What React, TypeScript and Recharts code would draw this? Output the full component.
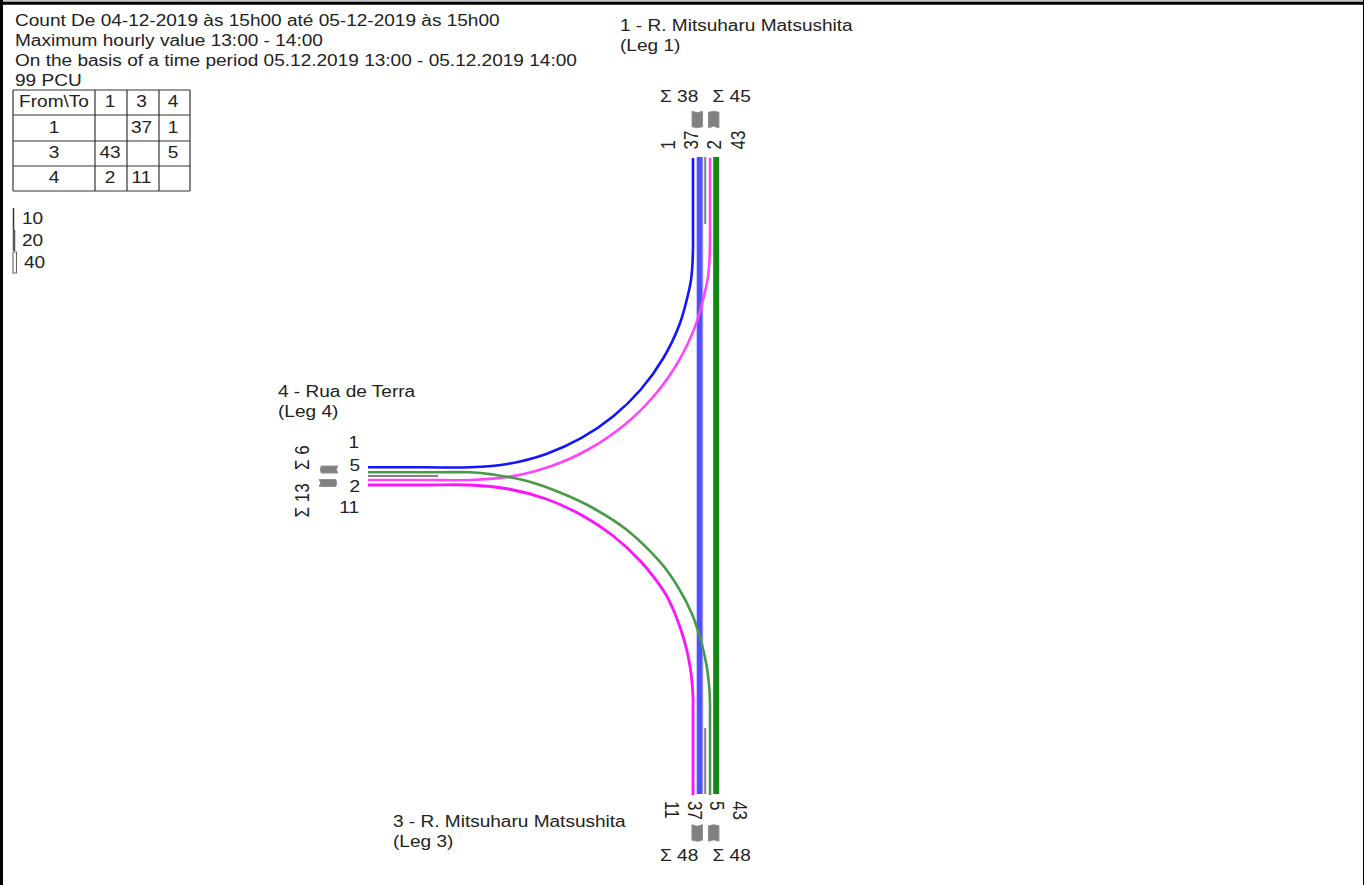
import React from "react";
import { ComposedChart, Line, Scatter, XAxis, YAxis } from "recharts";

// ---------- values ----------
const headerLines = [
  "Count De 04-12-2019 às 15h00 até 05-12-2019 às 15h00",
  "Maximum hourly value 13:00 - 14:00",
  "On the basis of a time period 05.12.2019 13:00 - 05.12.2019 14:00",
  "99 PCU",
];
const tableColumns = ["From\\To", "1", "3", "4"];
const tableRow1 = ["1", "", "37", "1"];
const tableRow3 = ["3", "43", "", "5"];
const tableRow4 = ["4", "2", "11", ""];
const scaleLabels = ["10", "20", "40"];
const legNames = ["1 - R. Mitsuharu Matsushita", "(Leg 1)", "4 - Rua de Terra", "(Leg 4)", "3 - R. Mitsuharu Matsushita", "(Leg 3)"];
const northSums = ["Σ 38", "Σ 45"];
const southSums = ["Σ 48", "Σ 48"];
const westSums = ["Σ 6", "Σ 13"];
const northFlows = ["1", "37", "2", "43"];
const southFlows = ["11", "37", "5", "43"];
const westFlows = ["1", "5", "2", "11"];

// flow paths, in drawing units of the diagram
const blueX = [368, 425, 470, 508.7, 546.3, 581.5, 613.3, 640.8, 663.1, 679.6, 689.6, 692.2, 693, 693, 693];
const blueY = [467.3, 467.3, 467.3, 463.7, 453.9, 437.9, 416.2, 389.5, 358.5, 324.2, 287.7, 268, 248, 232, 158];
const pinkUpX = [368, 425, 470, 511.7, 552.1, 590, 624.3, 653.9, 677.8, 695.5, 706.4, 709.2, 710, 710, 710];
const pinkUpY = [480, 480, 480, 476.4, 465.8, 448.5, 425, 396, 362.5, 325.4, 285.8, 265, 243, 228, 158];
const greenX = [368, 425, 470, 493, 527, 560, 593, 627, 660, 678, 692, 701, 706.5, 709.3, 710, 710, 710];
const greenY = [472.3, 472.3, 472.3, 474.5, 481, 492.5, 508, 530, 561.8, 587, 614, 641, 665, 688, 705, 720, 795];
const pinkDownX = [368, 425, 470, 508.7, 546.3, 581.5, 613.3, 640.8, 663.1, 673, 681, 687, 691, 693, 693, 693];
const pinkDownY = [485, 485, 485, 489, 499, 515, 536, 561.5, 590, 609, 630, 651, 673, 697, 712, 795];

// ---------- layout ----------
const W = 1364;
const H = 885;
const TEXT_STRETCH = 1.19;
const toPoints = (xs: number[], ys: number[]) => xs.map((x, i) => ({ x, y: ys[i] }));
const seg = (x1: number, y1: number, x2: number, y2: number) => [{ x: x1, y: y1 }, { x: x2, y: y2 }];

const tableXs = [13, 95, 127, 159, 190];
const tableYs = [90, 115, 141, 166, 191];
const tableBaselines = [107, 132.7, 157.7, 182.7];
const tableCenters = [54, 110, 141.5, 173];
const tableRows = [tableColumns, tableRow1, tableRow3, tableRow4];

type T = { x: number; y: number; text: string };
const plainLeft: T[] = [
  ...headerLines.map((text, i) => ({ x: 15, y: [26, 46, 66, 86][i], text })),
  ...scaleLabels.map((text, i) => ({ x: [22, 22, 24][i], y: [224, 246, 267.5][i], text })),
  ...legNames.map((text, i) => ({ x: [620, 620, 278, 278, 393, 393][i], y: [31, 50.5, 397, 417, 826.5, 847][i], text })),
  ...northSums.map((text, i) => ({ x: [660, 712.5][i], y: 101.5, text })),
  ...southSums.map((text, i) => ({ x: [660, 712.5][i], y: 861, text })),
];
const centered: T[] = tableRows.flatMap((row, r) =>
  row.map((text, c) => ({ x: tableCenters[c], y: tableBaselines[r], text })),
).filter((d) => d.text !== "");
const rightAligned: T[] = westFlows.map((text, i) => ({ x: [359, 360, 360, 359][i], y: [448, 470.5, 492, 513][i], text }));
const rotatedUp: T[] = [
  ...northFlows.map((text, i) => ({ x: [675, 698, 721, 745][i], y: 149.5, text })),
  ...westSums.map((text, i) => ({ x: 309, y: [470, 517.5][i], text })),
];
const rotatedDown: T[] = southFlows.map((text, i) => ({ x: [665, 688, 710, 733][i], y: 801, text }));

const glyphs = [
  { x: 697.3, y: 119.5, angle: 0, w: 10.5, l: 16.5 },
  { x: 713.7, y: 119.5, angle: 180, w: 10.5, l: 16.5 },
  { x: 697.2, y: 833, angle: 0, w: 10.5, l: 16.5 },
  { x: 713.7, y: 833, angle: 180, w: 10.5, l: 16.5 },
  { x: 329, y: 469.5, angle: 90, w: 7, l: 17.5 },
  { x: 328, y: 483, angle: -90, w: 7, l: 17.5 },
];

// ---------- marks helpers ----------
const textShape = (anchor: string, rotate: number) => (p: any) => (
  <text
    x={0}
    y={0}
    textAnchor={anchor}
    fontFamily="'Liberation Sans', Arial, sans-serif"
    fontSize={rotate ? 17 : 16}
    fill="#222"
    transform={`translate(${p.cx} ${p.cy}) scale(${rotate ? 1.15 : TEXT_STRETCH} 1) rotate(${rotate})`}
  >
    {p.payload?.text ?? p.text}
  </text>
);

const glyphShape = (p: any) => {
  const g = p.payload ?? p;
  const hw = g.w / 2;
  const hl = g.l / 2;
  return (
    <path
      d={`M${-hw} ${-hl}L0 ${-hl + 1.5}L${hw} ${-hl}V${hl - 1}L0 ${hl}L${-hw} ${hl - 1}Z`}
      fill="#808080"
      stroke="#909090"
      strokeWidth={1}
      strokeLinejoin="round"
      transform={`translate(${p.cx} ${p.cy}) rotate(${g.angle})`}
    />
  );
};

// smooth curve through the read points
const smooth = (ctx: any) => {
  let pts: number[][] = [];
  return {
    areaStart() {},
    areaEnd() {},
    lineStart() {
      pts = [];
    },
    point(x: number, y: number) {
      pts.push([+x, +y]);
    },
    lineEnd() {
      pts.forEach((p, i) => {
        if (i === 0) {
          ctx.moveTo(p[0], p[1]);
          return;
        }
        const p0 = pts[Math.max(i - 2, 0)];
        const p1 = pts[i - 1];
        const p3 = pts[Math.min(i + 1, pts.length - 1)];
        ctx.bezierCurveTo(
          p1[0] + (p[0] - p0[0]) / 6,
          p1[1] + (p[1] - p0[1]) / 6,
          p[0] - (p3[0] - p1[0]) / 6,
          p[1] - (p3[1] - p1[1]) / 6,
          p[0],
          p[1],
        );
      });
    },
  };
};

const path = (key: string, data: any[], stroke: string, width: number, curved = false) => (
  <Line
    key={key}
    data={data}
    dataKey="y"
    type={(curved ? smooth : "linear") as any}
    stroke={stroke}
    strokeWidth={width}
    strokeLinecap="butt"
    strokeLinejoin="miter"
    dot={false}
    activeDot={false}
    legendType="none"
    isAnimationActive={false}
    connectNulls
  />
);

export default function App() {
  return (
    <div style={{ position: "absolute", left: 0, top: 0, width: W, height: H, background: "#fff" }}>
      <ComposedChart width={W} height={H} margin={{ top: 0, right: 0, bottom: 0, left: 0 }}>
        <XAxis dataKey="x" type="number" domain={[0, W]} hide allowDataOverflow />
        <YAxis dataKey="y" type="number" domain={[0, H]} reversed hide allowDataOverflow />

        {path("frameGrey", seg(0, 0.85, W, 0.85), "#c4c4c4", 1.7)}
        {path("frameTop", seg(0, 3.2, W, 3.2), "#000", 3)}
        {path("frameLeft", seg(1.5, 0, 1.5, H), "#000", 3)}
        {path("frameRight", seg(1363.5, 0, 1363.5, H), "#000", 1)}

        {tableXs.map((x, i) => path(`tv${i}`, seg(x, 90, x, 191), "#333", 1.2))}
        {tableYs.map((y, i) => path(`th${i}`, seg(13, y, 190, y), "#333", 1.2))}

        {path("scale10", seg(13.5, 208, 13.5, 230), "#333", 1.5)}
        {path("scale20", seg(14, 230, 14, 251), "#555", 2.5)}
        {path(
          "scale40",
          [
            { x: 13, y: 252 },
            { x: 16.5, y: 252 },
            { x: 16.5, y: 273 },
            { x: 13, y: 273 },
            { x: 13, y: 252 },
          ],
          "#666",
          1.1,
        )}

        {path("northScale", seg(705.2, 157, 705.2, 224), "#808080", 2)}
        {path("southScale", seg(705.2, 728, 705.2, 794), "#808080", 2)}
        {path("westScale", seg(368, 476, 438, 476), "#808080", 2)}

        {path("halo37", seg(699.7, 157, 699.7, 794), "#d0d0ff", 7.6)}
        {path("flow37", seg(699.7, 157, 699.7, 794), "#4f4fff", 5.5)}
        {path("flow43", seg(716.2, 157, 716.2, 794), "#118811", 6)}
        {path("blue", toPoints(blueX, blueY), "#1414ff", 2.6, true)}
        {path("pinkUp", toPoints(pinkUpX, pinkUpY), "#ff44ff", 2.6, true)}
        {path("pinkDown", toPoints(pinkDownX, pinkDownY), "#ff10ff", 2.8, true)}
        {path("green", toPoints(greenX, greenY), "#479a47", 2.6, true)}

        <Scatter data={glyphs} dataKey="y" shape={glyphShape} isAnimationActive={false} legendType="none" />
        <Scatter data={plainLeft} dataKey="y" shape={textShape("start", 0)} isAnimationActive={false} legendType="none" />
        <Scatter data={centered} dataKey="y" shape={textShape("middle", 0)} isAnimationActive={false} legendType="none" />
        <Scatter data={rightAligned} dataKey="y" shape={textShape("end", 0)} isAnimationActive={false} legendType="none" />
        <Scatter data={rotatedUp} dataKey="y" shape={textShape("start", -90)} isAnimationActive={false} legendType="none" />
        <Scatter data={rotatedDown} dataKey="y" shape={textShape("start", 90)} isAnimationActive={false} legendType="none" />
      </ComposedChart>
    </div>
  );
}
